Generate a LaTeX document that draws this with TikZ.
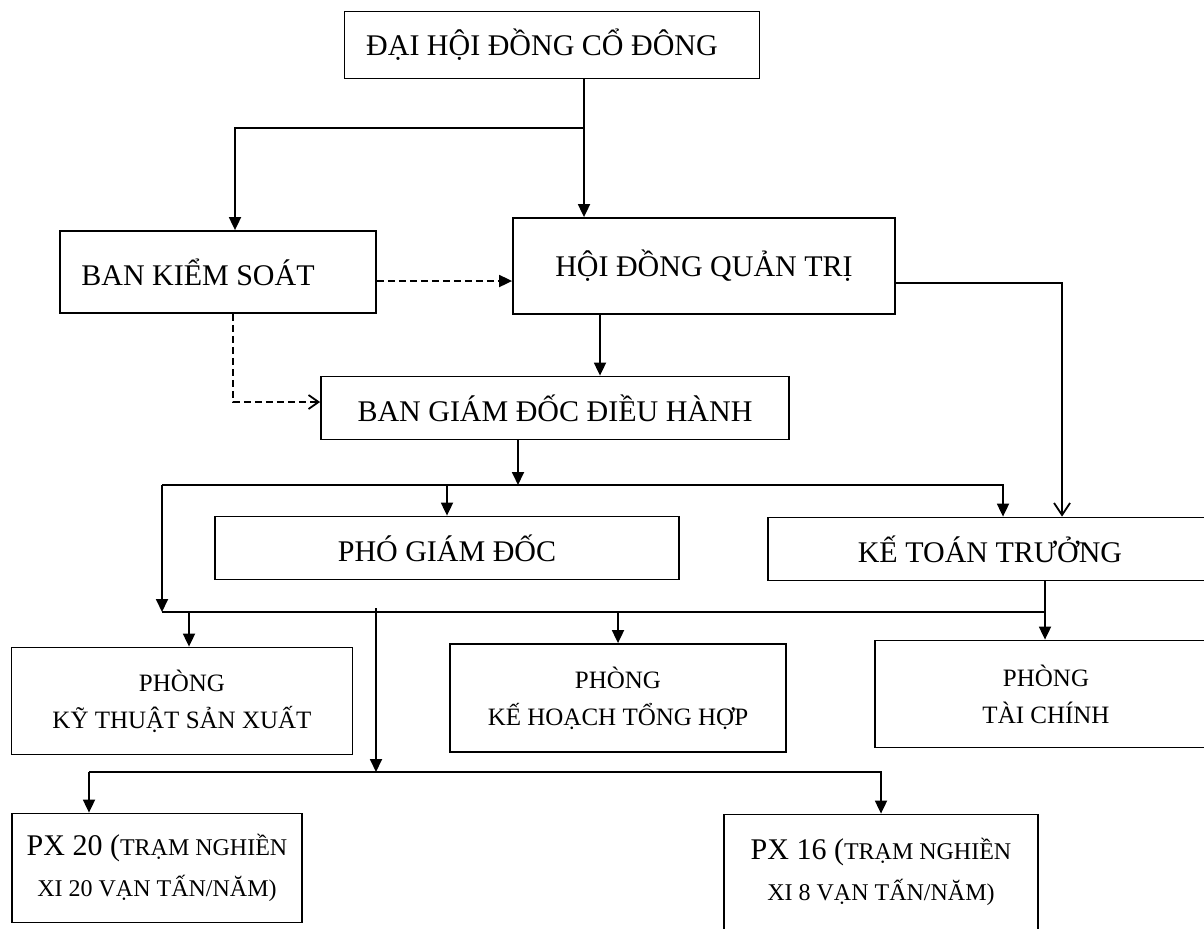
\documentclass[tikz,border=0pt]{standalone}
\usepackage{fontspec}
\setmainfont{Liberation Serif}
\usepackage{tikz}
\usetikzlibrary{arrows.meta}

\begin{document}
\begin{tikzpicture}[x=0.5pt,y=0.5pt]
\tikzstyle{every node}+=[inner sep=0pt]
\tikzstyle{box}=[draw=black, line width=0.9pt, font=\fontsize{15}{18}\selectfont]
\tikzstyle{room}=[box, align=center, font=\fontsize{12.5}{18.5}\selectfont]
\tikzstyle{line}=[black, line width=0.9pt]
\tikzstyle{arr}=[line, -{Triangle[length=6.5pt,width=6pt]}]
\tikzstyle{openarr}=[line, -{Straight Barb[length=6pt,width=8pt]}]
\tikzstyle{dashedline}=[dash pattern=on 3.5pt off 2pt]
\useasboundingbox (0,0) rectangle (1204,-928);
\draw (552,-45) node [box, minimum width=207.5pt, minimum height=33.5pt] (dhd) {ĐẠI HỘI ĐỒNG CỔ ĐÔNG\hspace*{10pt}};
\draw (218,-272) node [box, minimum width=158pt, minimum height=41pt] (bks) {BAN KIỂM SOÁT\hspace*{20pt}};
\draw (704,-266) node [box, minimum width=191pt, minimum height=48pt] (hdqt) {HỘI ĐỒNG QUẢN TRỊ};
\draw (555,-408) node [box, minimum width=234pt, minimum height=31.5pt] (bgd) {BAN GIÁM ĐỐC ĐIỀU HÀNH};
\draw (447,-548) node [box, minimum width=232pt, minimum height=31.5pt] (pgd) {PHÓ GIÁM ĐỐC};
\draw (990,-549) node [box, minimum width=222pt, minimum height=31.5pt] (ktt) {KẾ TOÁN TRƯỞNG};
\draw (182,-701) node [room, minimum width=170.5pt, minimum height=53.5pt] (pkt) {PHÒNG\\KỸ THUẬT SẢN XUẤT};
\draw (618,-698) node [room, minimum width=168pt, minimum height=54pt] (pkh) {PHÒNG\\KẾ HOẠCH TỔNG HỢP};
\draw (1046,-694) node [room, minimum width=171pt, minimum height=53.5pt] (ptc) {PHÒNG\\TÀI CHÍNH};
\draw (157,-868) node [room, minimum width=145pt, minimum height=54.5pt, font=\fontsize{12}{20.5}\selectfont] (px20) {{\fontsize{15}{20.5}\selectfont PX 20 (}TRẠM NGHIỀN\\XI 20 VẠN TẤN/NĂM)};
\draw (881,-872) node [room, minimum width=157pt, minimum height=57.5pt, font=\fontsize{12}{20.5}\selectfont] (px16) {{\fontsize{15}{20.5}\selectfont PX 16 (}TRẠM NGHIỀN\\XI 8 VẠN TẤN/NĂM)};
% top split
\coordinate (s1) at (584,-128);
\coordinate (s2) at (235,-128);
\draw [line] (dhd.south -| s1) -- (s1);
\draw [arr] (s1) -- (s1 |- hdqt.north);
\draw [arr] (s1) -- (s2) -- (s2 |- bks.north);
% control lines
\coordinate (d0) at (380,-281);
\coordinate (d1) at (233,-402);
\draw [arr, dashedline] (bks.east |- d0) -- (d0 -| hdqt.west);
\draw [line, dashedline, -{Straight Barb[length=5pt,width=7pt]}] (d1 |- bks.south) -- (d1) -- (d1 -| bgd.west);
% board to directors and accountant
\coordinate (h1) at (600,-330);
\draw [arr] (h1 |- hdqt.south) -- (h1 |- bgd.north);
\coordinate (r1) at (1062,-283);
\draw [openarr] (hdqt.east |- r1) -- (r1) -- (r1 |- ktt.north);
% first bus
\coordinate (b0) at (162,-485);
\coordinate (b1) at (518,-485);
\coordinate (b2) at (1003,-485);
\draw [arr] (b1 |- bgd.south) -- (b1);
\draw [arr] (b0) -- (b2) -- (b2 |- ktt.north);
\draw [arr] (b0 -| pgd.north) -- (pgd.north);
% second bus
\coordinate (c0) at (162,-612);
\coordinate (c1) at (189,-612);
\coordinate (c2) at (1045,-612);
\coordinate (c3) at (376,-608);
\draw [arr] (b0) -- (c0);
\draw [line] (c0) -- (c2);
\draw [arr] (ktt.south -| c2) -- (c2 |- ptc.north);
\draw [arr] (c1) -- (c1 |- pkt.north);
\draw [arr] (c0 -| pkh.north) -- (pkh.north);
% workshops
\coordinate (e0) at (89,-772);
\coordinate (e1) at (376,-772);
\draw [arr] (c3) -- (e1);
\draw [arr] (e0) -- (e0 |- px20.north);
\draw [arr] (e0) -- (e0 -| px16.north) -- (px16.north);
\end{tikzpicture}
\end{document}
